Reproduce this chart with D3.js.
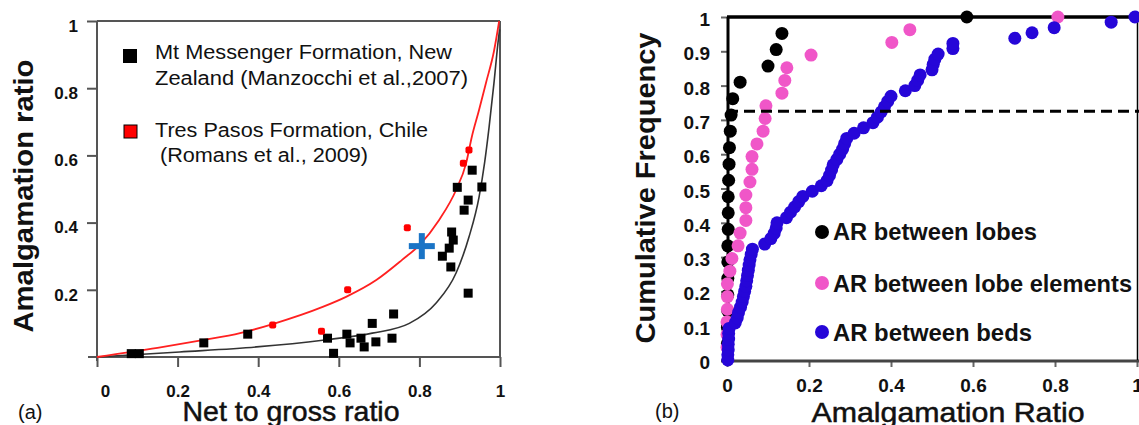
<!DOCTYPE html>
<html><head><meta charset="utf-8">
<script src="https://cdn.jsdelivr.net/npm/d3@7"></script>
<style>html,body{margin:0;padding:0;background:#fff;} svg{display:block;} text{font-family:"Liberation Sans",Arial,sans-serif;}</style>
</head><body><svg id="c" width="1139" height="425"></svg>
<script>
// ---------- Panel (a) data ----------
const mmX = [0.085, 0.105, 0.265, 0.374, 0.572, 0.587, 0.62, 0.628, 0.655, 0.663, 0.692, 0.683, 0.732, 0.736, 0.857, 0.874, 0.878, 0.88, 0.884, 0.894, 0.911, 0.921, 0.921, 0.931, 0.955];
const mmY = [0.01, 0.01, 0.042, 0.068, 0.056, 0.011, 0.068, 0.042, 0.056, 0.03, 0.045, 0.10, 0.056, 0.128, 0.30, 0.324, 0.268, 0.372, 0.348, 0.505, 0.437, 0.467, 0.19, 0.556, 0.506];
const tpX = [0.436, 0.557, 0.622, 0.77, 0.909, 0.923];
const tpY = [0.095, 0.077, 0.2, 0.385, 0.577, 0.616];
const redCurveX = [0, 0.15, 0.262, 0.355, 0.436, 0.56, 0.618, 0.693, 0.757, 0.8, 0.849, 0.891, 0.916, 0.93, 0.948, 0.965, 0.985, 0.998];
const redCurveY = [0, 0.027, 0.05, 0.071, 0.098, 0.149, 0.179, 0.229, 0.289, 0.333, 0.408, 0.497, 0.577, 0.655, 0.735, 0.815, 0.91, 1.0];
const blackCurveX = [0, 0.205, 0.396, 0.56, 0.683, 0.775, 0.841, 0.891, 0.923, 0.948, 0.962, 0.973, 0.985, 0.995, 0.999];
const blackCurveY = [0, 0.015, 0.03, 0.05, 0.071, 0.1, 0.16, 0.25, 0.357, 0.476, 0.58, 0.685, 0.815, 0.935, 0.975];
const crossX = [0.806], crossY = [0.33];
const aXTicks = [0, 0.2, 0.4, 0.6, 0.8, 1];
const aYTicks = [0.2, 0.4, 0.6, 0.8, 1];
const legendA = ["Mt Messenger Formation, New", "Zealand  (Manzocchi et al.,2007)", "Tres Pasos Formation, Chile", "(Romans et al., 2009)"];

// ---------- Panel (b) data ----------
const lobesY = [0.048,0.095,0.143,0.19,0.238,0.286,0.333,0.381,0.429,0.476,0.524,0.571,0.619,0.667,0.714,0.762,0.81,0.857,0.905,0.952,1.0];
const lobesX = [0.001,0.001,0.002,0.002,0.002,0.002,0.002,0.003,0.003,0.003,0.004,0.005,0.006,0.008,0.01,0.014,0.032,0.1,0.12,0.134,0.585];
const elemY = [0.037,0.074,0.111,0.148,0.185,0.222,0.259,0.296,0.333,0.37,0.407,0.444,0.481,0.519,0.556,0.593,0.63,0.667,0.704,0.741,0.778,0.815,0.852,0.889,0.926,0.963,1.0];
const elemX = [0.0,0.0,0.0,0.001,0.001,0.001,0.007,0.012,0.027,0.032,0.046,0.046,0.046,0.056,0.061,0.061,0.073,0.088,0.093,0.095,0.134,0.141,0.146,0.205,0.402,0.446,0.807];
const bedsY = [0.0,0.015,0.03,0.046,0.061,0.077,0.092,0.108,0.123,0.138,0.154,0.169,0.185,0.2,0.215,0.231,0.246,0.262,0.277,0.292,0.308,0.323,0.338,0.354,0.369,0.385,0.4,0.415,0.431,0.446,0.462,0.477,0.492,0.508,0.523,0.538,0.554,0.569,0.585,0.6,0.615,0.631,0.646,0.661,0.677,0.692,0.708,0.723,0.738,0.754,0.769,0.785,0.8,0.815,0.831,0.846,0.862,0.877,0.892,0.908,0.923,0.938,0.954,0.969,0.985,1.0];
const bedsX = [0.002,0.002,0.003,0.003,0.004,0.004,0.005,0.02,0.025,0.028,0.033,0.037,0.04,0.043,0.046,0.048,0.05,0.052,0.054,0.056,0.059,0.062,0.092,0.107,0.115,0.12,0.122,0.145,0.155,0.165,0.175,0.185,0.208,0.23,0.244,0.25,0.255,0.259,0.268,0.275,0.282,0.287,0.292,0.31,0.333,0.356,0.367,0.376,0.384,0.392,0.4,0.435,0.458,0.465,0.471,0.5,0.503,0.507,0.515,0.551,0.551,0.702,0.744,0.798,0.937,0.995];
const thresholdY = [0.725];
const bXTicks = [0, 0.2, 0.4, 0.6, 0.8, 1];
const bYTicks = [0, 0.1, 0.2, 0.3, 0.4, 0.5, 0.6, 0.7, 0.8, 0.9, 1];
const legendB = ["AR between lobes", "AR between lobe elements", "AR between beds"];
const colB = ["#000000", "#f056c8", "#2606d8"];

const svg = d3.select("#c");
const FONT = '"Liberation Sans", Arial, sans-serif';

// ================= Panel (a) =================
const xa = d3.scaleLinear().domain([0, 1]).range([97, 500]);
const ya = d3.scaleLinear().domain([0, 1]).range([357, 21]);
const ga = svg.append("g");

// frame
ga.append("line").attr("x1", xa(0)).attr("x2", xa(1)).attr("y1", ya(1)).attr("y2", ya(1)).attr("stroke", "#555").attr("stroke-width", 2);
ga.append("line").attr("x1", xa(1)).attr("x2", xa(1)).attr("y1", ya(1)).attr("y2", ya(0)).attr("stroke", "#555").attr("stroke-width", 2);

const axA_y = ga.append("g").attr("transform", `translate(${xa(0)},0)`)
  .call(d3.axisLeft(ya).tickValues(aYTicks).tickSize(10).tickPadding(9).tickFormat(d => String(d)));
axA_y.select(".domain").remove();
axA_y.selectAll(".tick line").attr("stroke", "#555").attr("stroke-width", 2);
axA_y.selectAll(".tick text").attr("font-family", FONT).attr("font-size", 17).attr("font-weight", "bold").attr("fill", "#111").attr("dy", "0.6em");
ga.append("line").attr("x1", xa(0)).attr("x2", xa(0)).attr("y1", ya(1)).attr("y2", ya(0) + 4).attr("stroke", "#555").attr("stroke-width", 2);

const axA_x = ga.append("g").attr("transform", `translate(0,${ya(0)})`)
  .call(d3.axisBottom(xa).tickValues(aXTicks).tickSize(10).tickPadding(18).tickFormat(d => String(d)));
axA_x.select(".domain").remove();
axA_x.selectAll(".tick line").attr("stroke", "#555").attr("stroke-width", 2);
axA_x.selectAll(".tick text").attr("font-family", FONT).attr("font-size", 17).attr("font-weight", "bold").attr("fill", "#111")
  .attr("dx", d => d === 0 ? 8 : 0);
ga.append("line").attr("x1", xa(0) - 9).attr("x2", xa(1)).attr("y1", ya(0)).attr("y2", ya(0)).attr("stroke", "#555").attr("stroke-width", 2);

// curves
const lineA = d3.line().x(d => xa(d[0])).y(d => ya(d[1])).curve(d3.curveMonotoneX);
ga.append("path").datum(blackCurveX.map((v, i) => [v, blackCurveY[i]])).attr("d", lineA)
  .attr("fill", "none").attr("stroke", "#333").attr("stroke-width", 1.6);
ga.append("path").datum(redCurveX.map((v, i) => [v, redCurveY[i]])).attr("d", lineA)
  .attr("fill", "none").attr("stroke", "#ff2020").attr("stroke-width", 1.8);

// points
ga.selectAll("rect.mm").data(mmX.map((v, i) => [v, mmY[i]])).enter().append("rect").attr("class", "mm")
  .attr("x", d => xa(d[0]) - 4.5).attr("y", d => ya(d[1]) - 4.5).attr("width", 9).attr("height", 9).attr("fill", "#000");
ga.selectAll("rect.tp").data(tpX.map((v, i) => [v, tpY[i]])).enter().append("rect").attr("class", "tp")
  .attr("x", d => xa(d[0]) - 3.5).attr("y", d => ya(d[1]) - 3.5).attr("width", 7).attr("height", 7).attr("rx", 2).attr("fill", "#ff0000");

// cross
crossX.forEach((cx, i) => {
  const px = xa(cx), py = ya(crossY[i]);
  ga.append("rect").attr("x", px - 13).attr("y", py - 3).attr("width", 26).attr("height", 6).attr("fill", "#1a74c6");
  ga.append("rect").attr("x", px - 3).attr("y", py - 13).attr("width", 6).attr("height", 26).attr("fill", "#1a74c6");
});

// legend (a)
ga.append("rect").attr("x", 123).attr("y", 49).attr("width", 14).attr("height", 14).attr("fill", "#000");
ga.append("rect").attr("x", 124).attr("y", 125).attr("width", 13).attr("height", 13).attr("fill", "#ff0000").attr("stroke", "#000").attr("stroke-width", 1);
const legAPos = [[155, 59, 297], [155, 85, 313], [155, 137, 273], [160, 162, 208]];
legendA.forEach((t, i) => {
  ga.append("text").attr("x", legAPos[i][0]).attr("y", legAPos[i][1]).attr("font-size", 20).attr("fill", "#111")
    .attr("textLength", legAPos[i][2]).attr("lengthAdjust", "spacingAndGlyphs").text(t);
});

// titles (a)
ga.append("text").attr("transform", "translate(33,196) rotate(-90)").attr("text-anchor", "middle")
  .attr("font-size", 28).attr("font-weight", "bold").attr("fill", "#111")
  .attr("textLength", 273).attr("lengthAdjust", "spacingAndGlyphs").text("Amalgamation  ratio");
ga.append("text").attr("x", 291).attr("y", 421).attr("text-anchor", "middle")
  .attr("font-size", 28).attr("fill", "#111").attr("stroke", "#111").attr("stroke-width", 0.5)
  .attr("textLength", 217).attr("lengthAdjust", "spacingAndGlyphs").text("Net to gross ratio");
ga.append("text").attr("x", 18).attr("y", 419).attr("font-size", 20).attr("fill", "#111").text("(a)");

// ================= Panel (b) =================
const xb = d3.scaleLinear().domain([0, 1]).range([727, 1137]);
const yb = d3.scaleLinear().domain([0, 1]).range([360, 17]);
const gb = svg.append("g");

const axB_y = gb.append("g").attr("transform", `translate(${xb(0)},0)`)
  .call(d3.axisLeft(yb).tickValues(bYTicks).tickSize(6).tickPadding(11).tickFormat(d => String(d)));
axB_y.select(".domain").remove();
axB_y.selectAll(".tick line").attr("stroke", "#666").attr("stroke-width", 2);
axB_y.selectAll(".tick text").attr("font-family", FONT).attr("font-size", 19).attr("font-weight", "bold").attr("fill", "#111").attr("dy", "0.45em");

const axB_x = gb.append("g").attr("transform", `translate(0,${yb(0)})`)
  .call(d3.axisBottom(xb).tickValues(bXTicks).tickSize(7).tickPadding(12).tickFormat(d => String(d)));
axB_x.select(".domain").remove();
axB_x.selectAll(".tick line").attr("stroke", "#666").attr("stroke-width", 2);
axB_x.selectAll(".tick text").attr("font-family", FONT).attr("font-size", 19).attr("font-weight", "bold").attr("fill", "#111");

// frame
gb.append("line").attr("x1", xb(0) - 6).attr("x2", 1139).attr("y1", yb(0) + 1).attr("y2", yb(0) + 1).attr("stroke", "#444").attr("stroke-width", 3);
gb.append("line").attr("x1", xb(0) + 1).attr("x2", xb(0) + 1).attr("y1", yb(1)).attr("y2", yb(0)).attr("stroke", "#000").attr("stroke-width", 3);
gb.append("line").attr("x1", xb(0)).attr("x2", 1139).attr("y1", yb(1)).attr("y2", yb(1)).attr("stroke", "#000").attr("stroke-width", 3.5);
gb.append("line").attr("x1", 1137.5).attr("x2", 1137.5).attr("y1", yb(1)).attr("y2", yb(0)).attr("stroke", "#000").attr("stroke-width", 1.5);

// points
const series = [[lobesX, lobesY], [elemX, elemY], [bedsX, bedsY]];
series.forEach((s, k) => {
  gb.append("g").selectAll("circle").data(s[0].map((v, i) => [v, s[1][i]])).enter().append("circle")
    .attr("cx", d => xb(d[0])).attr("cy", d => yb(d[1])).attr("r", 6.5).attr("fill", colB[k]);
});

// threshold dashed line
thresholdY.forEach(t => {
  gb.append("line").attr("x1", xb(0)).attr("x2", 1139).attr("y1", yb(t)).attr("y2", yb(t))
    .attr("stroke", "#000").attr("stroke-width", 3).attr("stroke-dasharray", "11,6");
});

// legend (b)
const legBPos = [[232, 240, 204], [283, 292, 299], [332, 341, 199]];
legendB.forEach((t, i) => {
  gb.append("circle").attr("cx", 822).attr("cy", legBPos[i][0]).attr("r", 7).attr("fill", colB[i]);
  gb.append("text").attr("x", 833).attr("y", legBPos[i][1]).attr("font-size", 24).attr("font-weight", "bold").attr("fill", "#111")
    .attr("textLength", legBPos[i][2]).attr("lengthAdjust", "spacingAndGlyphs").text(t);
});

// titles (b)
gb.append("text").attr("transform", "translate(655,188) rotate(-90)").attr("text-anchor", "middle")
  .attr("font-size", 28).attr("font-weight", "bold").attr("fill", "#111")
  .attr("textLength", 311).attr("lengthAdjust", "spacingAndGlyphs").text("Cumulative  Frequency");
gb.append("text").attr("x", 948).attr("y", 422).attr("text-anchor", "middle")
  .attr("font-size", 28).attr("fill", "#111").attr("stroke", "#111").attr("stroke-width", 0.5)
  .attr("textLength", 273).attr("lengthAdjust", "spacingAndGlyphs").text("Amalgamation  Ratio");
gb.append("text").attr("x", 655).attr("y", 418).attr("font-size", 20).attr("fill", "#111").text("(b)");
</script>
</body></html>
